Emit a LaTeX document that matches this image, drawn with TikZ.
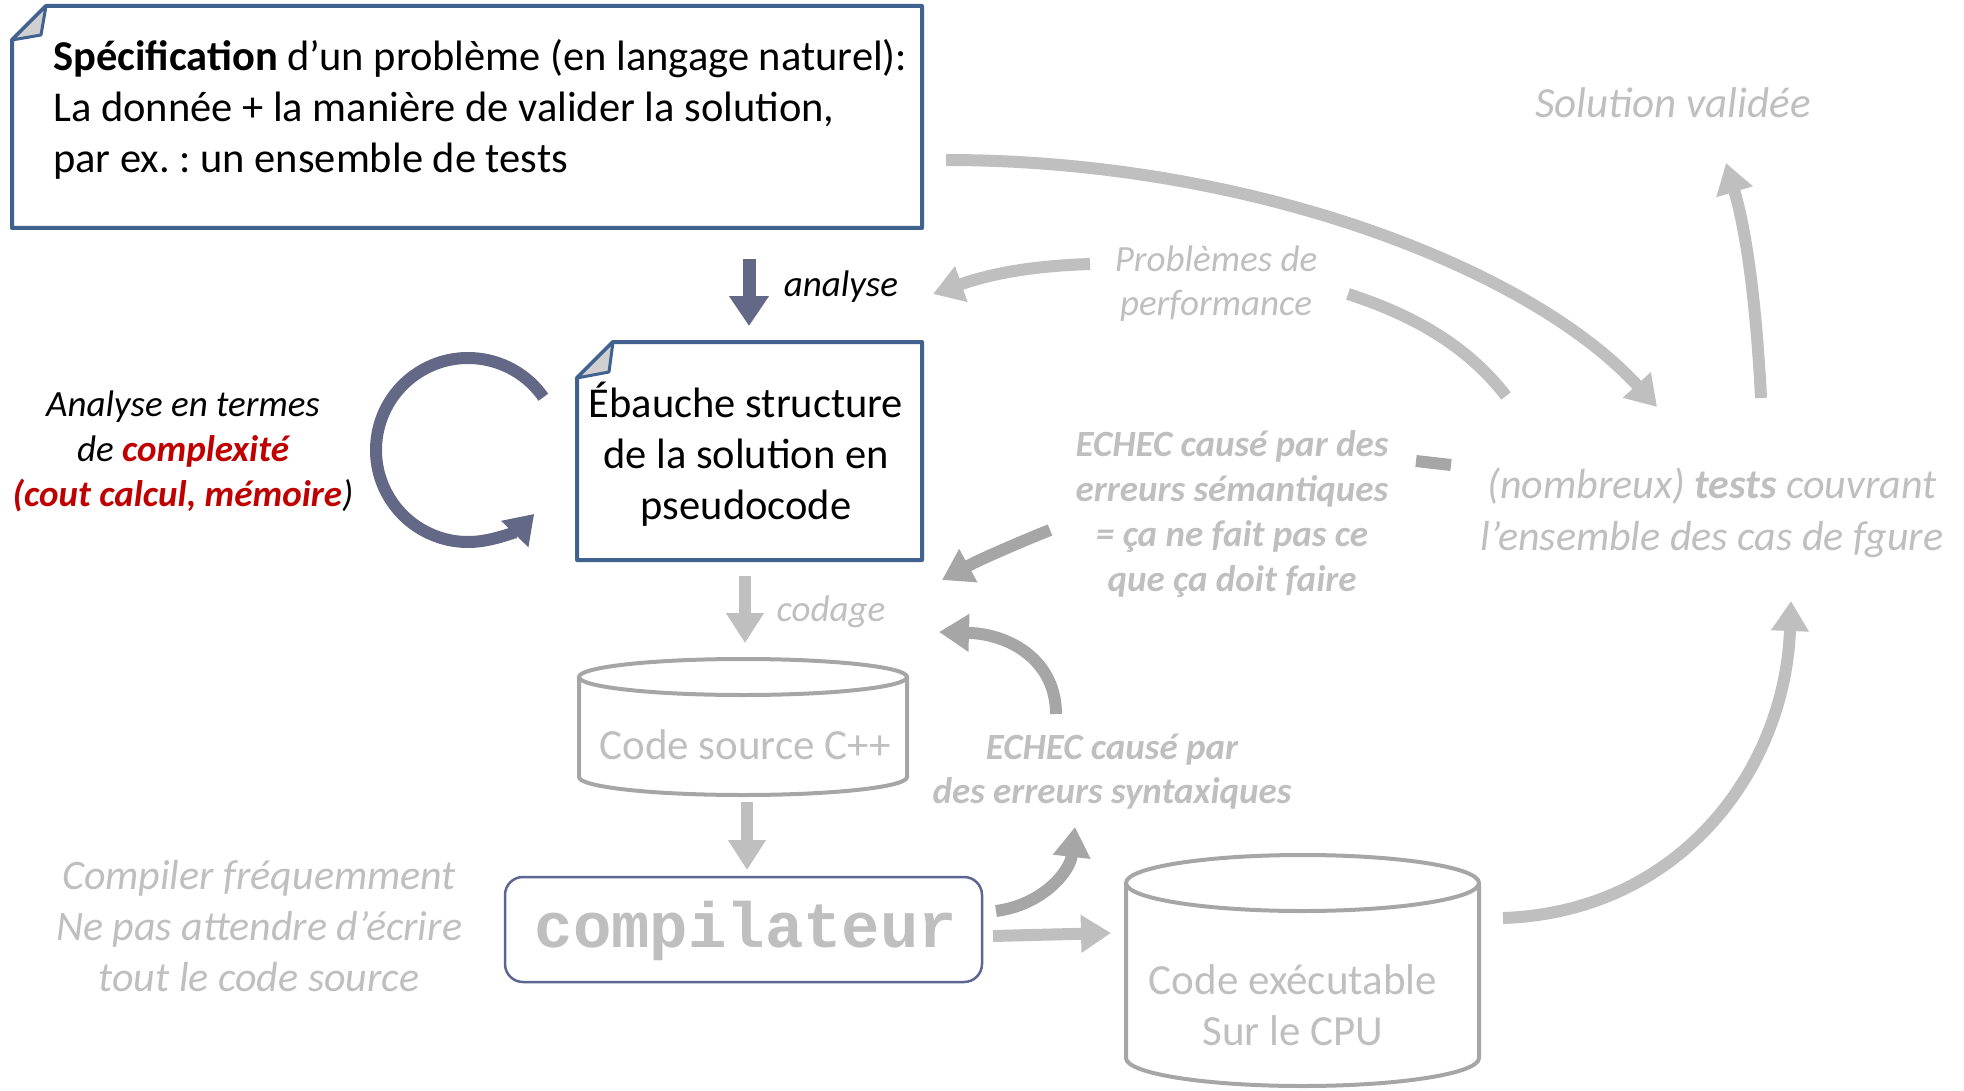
\documentclass[tikz,border=0pt]{standalone}
\usepackage{fontspec}
\setmainfont{Carlito}
\newfontfamily\monofam{Liberation Mono}
\usetikzlibrary{arrows.meta}
\frenchspacing
\definecolor{boxblue}{HTML}{41618F}
\definecolor{arrblue}{HTML}{646887}
\definecolor{lgray}{HTML}{BFBFBF}
\definecolor{dgray}{HTML}{A6A6A6}
\definecolor{foldgray}{HTML}{D0D0D0}
\definecolor{redtxt}{HTML}{C00000}
\definecolor{compblue}{HTML}{5D6690}
\tikzset{
  txt/.style={inner sep=0pt, align=center},
  boxline/.style={draw=boxblue, line width=4pt, line join=round, fill=white},
  foldtri/.style={draw=boxblue, line width=3pt, line join=round, fill=foldgray},
  cylline/.style={draw=dgray, line width=4pt},
  barrow/.style={line width=12pt, -{Triangle[length=30pt,width=36pt]}},
  lgarrow/.style={barrow, draw=lgray},
  dgarrow/.style={barrow, draw=dgray},
}
\begin{document}
\begin{tikzpicture}[x=1pt,y=-1pt]
\useasboundingbox (0,0) rectangle (1964,1091);

% ---- Specification box
\draw[boxline] (12,40) -- (46,6) -- (922,6) -- (922,228) -- (12,228) -- cycle;
\draw[foldtri] (12,40) -- (46,6) -- (41,35) -- cycle;
\node[txt, anchor=west, align=left, font=\fontsize{42.5}{51}\selectfont] (spec) at (53,109)
  {\textbf{Spécification} d’un problème (en langage naturel):\\La donnée + la manière de valider la solution,\\par ex. : un ensemble de tests};
\coordinate (specR) at (946,160);

% ---- analyse arrow
\coordinate (anaA) at (749,259);
\coordinate (anaB) at (749,326);
\draw[line width=13pt, draw=arrblue, -{Triangle[length=30pt,width=38pt]}] (anaA) -- (anaB);
\node[txt, font=\fontsize{37}{44}\selectfont\itshape] (analyse) at (841,287) {analyse};

% ---- Ebauche box
\draw[boxline] (577,378) -- (613,342) -- (922,342) -- (922,560) -- (577,560) -- cycle;
\draw[foldtri] (577,378) -- (613,342) -- (609,372) -- cycle;
\node[txt, font=\fontsize{42.5}{51}\selectfont] (ebauche) at (746,454)
  {Ébauche structure\\de la solution en\\pseudocode};

% ---- rotating arrow
\draw[line width=12pt, draw=arrblue, -{Triangle[length=28pt,width=36pt]}]
  (468,450) ++(-35:92) coordinate (rotS) arc[start angle=-35, end angle=-316, radius=92] coordinate (rotE);
\node[txt, font=\fontsize{37}{45}\selectfont\itshape] (cplx) at (183,451)
  {Analyse en termes\\de \textcolor{redtxt}{\textbf{complexité}}\\\textcolor{redtxt}{\textbf{(cout calcul, mémoire}})};

% ---- codage
\coordinate (codA) at (745,576);
\coordinate (codB) at (745,643);
\draw[lgarrow] (codA) -- (codB);
\node[txt, font=\fontsize{37}{44}\selectfont\itshape, text=lgray] (codage) at (831,612) {codage};

% ---- Code source cylinder
\draw[cylline] (579,677) -- (579,777) arc[start angle=180, end angle=0, x radius=164, y radius=18] -- (907,677);
\draw[cylline] (743,677) ellipse[x radius=164, y radius=18];
\node[txt, font=\fontsize{43}{51}\selectfont, text=lgray] (src) at (745,745) {Code source C++};

\coordinate (srcA) at (747,802);
\coordinate (srcB) at (747,870);
\draw[lgarrow] (srcA) -- (srcB);

% ---- compilateur
\node[draw=compblue, line width=2.5pt, rounded corners=18pt, minimum width=477pt, minimum height=105pt, inner sep=0pt] (compbox) at (743.5,929.5) {};
\node[txt, font=\fontsize{64}{70}\selectfont\monofam\bfseries, text=lgray] (comp) at (746,931) {compilateur};
\node[txt, font=\fontsize{42}{51}\selectfont\itshape, text=lgray] (freq) at (259,926)
  {Compiler fréquemment\\Ne pas attendre d’écrire\\tout le code source};

% ---- compilateur -> executable
\coordinate (ceA) at (993,936);
\coordinate (ceB) at (1111,933);
\draw[lgarrow] (ceA) -- (ceB);

% ---- syntax error
\coordinate (csA) at (996,911);
\coordinate (csB) at (1075,827);
\draw[dgarrow] (csA) .. controls (1042,905) and (1070,872) .. (csB);
\node[txt, font=\fontsize{37}{44}\selectfont\itshape\bfseries, text=lgray] (syntax) at (1112,772)
  {ECHEC causé par\\des erreurs syntaxiques};
\coordinate (scA) at (1056,714);
\coordinate (scB) at (939,632);
\draw[dgarrow] (scA) .. controls (1056,662) and (1012,634) .. (scB);

% ---- semantic error
\node[txt, font=\fontsize{37}{45}\selectfont\itshape\bfseries, text=lgray] (sem) at (1232,514)
  {ECHEC causé par des\\erreurs sémantiques\\= ça ne fait pas ce\\que ça doit faire};
\coordinate (seA) at (1050,530);
\coordinate (seB) at (942,580);
\draw[dgarrow] (seA) .. controls (1010,546) and (975,562) .. (seB);
\coordinate (barA) at (1416,461);
\coordinate (barB) at (1451,465);
\draw[dgray, line width=12pt] (barA) -- (barB);

% ---- executable cylinder
\draw[cylline] (1126,883) -- (1126,1058) arc[start angle=180, end angle=0, x radius=176.5, y radius=28] -- (1479,883);
\draw[cylline] (1302.5,883) ellipse[x radius=176.5, y radius=28];
\node[txt, font=\fontsize{43}{51}\selectfont, text=lgray] (exec) at (1293,1005) {Code exécutable\\Sur le CPU};

% ---- exec -> tests
\coordinate (etA) at (1503,918);
\coordinate (etB) at (1791,601);
\draw[lgarrow] (etA) .. controls (1680,912) and (1785,770) .. (etB);

% ---- tests
\node[txt, font=\fontsize{42}{52}\selectfont\itshape, text=lgray] (tests) at (1712,513)
  {(nombreux) \textbf{tests} couvrant\\l’ensemble des cas de fgure};
\coordinate (tsA) at (1761,398);
\coordinate (tsB) at (1726,163);
\draw[lgarrow] (tsA) .. controls (1756,300) and (1746,230) .. (tsB);
\node[txt, font=\fontsize{43}{50}\selectfont\itshape, text=lgray] (sol) at (1673,103) {Solution validée};

% ---- spec -> tests
\coordinate (stB) at (1657,407);
\draw[lgarrow] (specR) .. controls (1250,160) and (1530,268) .. (stB);

% ---- performance
\coordinate (tpA) at (1506,396);
\coordinate (tpB) at (1348,294);
\draw[lgray, line width=12pt] (tpA) .. controls (1466,344) and (1410,314) .. (tpB);
\node[txt, font=\fontsize{37}{44}\selectfont\itshape, text=lgray] (perf) at (1216,284)
  {Problèmes de\\performance};
\coordinate (paA) at (1090,264);
\coordinate (paB) at (933,294);
\draw[lgarrow] (paA) .. controls (1030,266) and (990,274) .. (paB);
\end{tikzpicture}
\end{document}
